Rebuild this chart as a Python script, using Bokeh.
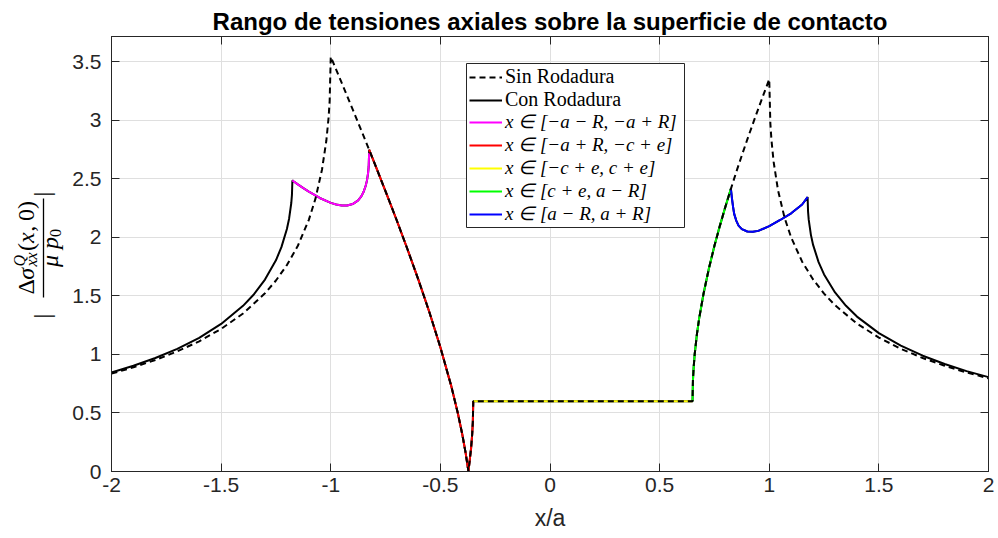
import math
from bokeh.plotting import figure
from bokeh.models import (Range1d, LinearAxis, Legend, LegendItem, BoxAnnotation,
                          FixedTicker, CustomJSTickFormatter)
from bokeh.layouts import row
from bokeh.embed import file_html
from bokeh.resources import INLINE
from bokeh.core.properties import value

# ---------------- data ----------------
x_ticks = [-2, -1.5, -1, -0.5, 0, 0.5, 1, 1.5, 2]
y_ticks = [0, 0.5, 1, 1.5, 2, 2.5, 3, 3.5]

# "Sin Rodadura" (dashed)
x_sin = [-2.0, -1.9, -1.8, -1.7, -1.6, -1.5, -1.4, -1.3, -1.25, -1.2, -1.15, -1.1, -1.07,
         -1.04, -1.02, -1.01, -1.005, -1.0, -0.95, -0.9, -0.85, -0.825, -0.8, -0.75, -0.7,
         -0.65, -0.6, -0.55, -0.5, -0.45, -0.42, -0.4, -0.385, -0.372, -0.36, -0.355, -0.352,
         -0.35, 0.65, 0.652, 0.655, 0.66, 0.67, 0.68, 0.7, 0.725, 0.75, 0.775, 0.8, 0.825,
         0.85, 0.875, 0.9, 0.925, 0.95, 0.975, 1.0, 1.005, 1.01, 1.02, 1.04, 1.07, 1.1, 1.15,
         1.2, 1.25, 1.3, 1.4, 1.5, 1.6, 1.7, 1.8, 1.9, 2.0]
y_sin = [0.836, 0.890, 0.952, 1.026, 1.112, 1.218, 1.349, 1.522, 1.631, 1.763, 1.928, 2.149, 2.328,
         2.577, 2.827, 3.020, 3.164, 3.542, 3.319, 3.093, 2.864, 2.748, 2.631, 2.393, 2.150,
         1.898, 1.636, 1.360, 1.061, 0.727, 0.495, 0.316, 0.161, 0.0, 0.198, 0.316, 0.421,
         0.600, 0.600, 0.779, 0.884, 1.002, 1.171, 1.303, 1.516, 1.736, 1.927, 2.100, 2.261, 2.414,
         2.560, 2.700, 2.836, 2.968, 3.098, 3.225, 3.350, 2.974, 2.832, 2.644, 2.402, 2.166, 1.998, 1.792,
         1.640, 1.519, 1.420, 1.263, 1.144, 1.048, 0.969, 0.903, 0.846, 0.796]

# "Con Rodadura" pieces
x_left = [-2.0, -1.9, -1.8, -1.7, -1.6, -1.5, -1.4, -1.35, -1.3, -1.25, -1.225, -1.2, -1.19,
          -1.18, -1.177, -1.175]
y_left = [0.846, 0.903, 0.969, 1.047, 1.141, 1.260, 1.415, 1.514, 1.639, 1.804, 1.916, 2.071, 2.159,
          2.293, 2.362, 2.486]

x_mag = [-1.175, -1.17, -1.15, -1.125, -1.1, -1.05, -1.0, -0.975, -0.95, -0.925, -0.9, -0.875,
         -0.86, -0.85, -0.84, -0.835, -0.83, -0.827, -0.825]
y_mag = [2.486, 2.479, 2.452, 2.420, 2.390, 2.336, 2.294, 2.280, 2.271, 2.271, 2.284, 2.316,
         2.352, 2.389, 2.444, 2.484, 2.544, 2.603, 2.720]

x_red = [-0.825, -0.8, -0.75, -0.7, -0.65, -0.6, -0.55, -0.5, -0.45, -0.42, -0.4, -0.385,
         -0.372, -0.36, -0.355, -0.352, -0.35]
y_red = [2.748, 2.631, 2.393, 2.150, 1.898, 1.636, 1.360, 1.061, 0.727, 0.495, 0.316, 0.161,
         0.0, 0.198, 0.316, 0.421, 0.600]

x_yel = [-0.35, 0.65]
y_yel = [0.600, 0.600]

x_grn = [0.65, 0.652, 0.655, 0.66, 0.67, 0.68, 0.7, 0.725, 0.75, 0.775, 0.8, 0.825]
y_grn = [0.600, 0.779, 0.884, 1.002, 1.171, 1.303, 1.516, 1.736, 1.927, 2.100, 2.261, 2.414]

x_blu = [0.825, 0.83, 0.835, 0.84, 0.85, 0.86, 0.875, 0.9, 0.925, 0.95, 1.0, 1.05, 1.1,
         1.15, 1.175]
y_blu = [2.414, 2.33, 2.26, 2.20, 2.14, 2.10, 2.07, 2.05, 2.048, 2.055, 2.095, 2.148, 2.205,
         2.28, 2.343]

x_right = [1.175, 1.177, 1.18, 1.19, 1.2, 1.225, 1.25, 1.3, 1.35, 1.4, 1.5, 1.6, 1.7, 1.8,
           1.9, 2.0]
y_right = [2.343, 2.220, 2.151, 2.021, 1.935, 1.788, 1.683, 1.529, 1.415, 1.323, 1.182, 1.075,
           0.989, 0.918, 0.857, 0.806]

legend_labels = ["Sin Rodadura", "Con Rodadura",
                 "x \u2208 [\u2212a \u2212 R, \u2212a + R]",
                 "x \u2208 [\u2212a + R, \u2212c + e]",
                 "x \u2208 [\u2212c + e, c + e]",
                 "x \u2208 [c + e, a \u2212 R]",
                 "x \u2208 [a \u2212 R, a + R]"]
seg_colors = ["#ff00ff", "#ff0000", "#ffff00", "#00ff00", "#0000ff"]

title_text = "Rango de tensiones axiales sobre la superficie de contacto"
xlabel_text = "x/a"

# ---------------- layout constants ----------------
W, H = 998, 538
LAB_W = 68                                   # side canvas holding the y label
FL, FR, FT, FB = 111, 988, 36, 471           # frame edges in page pixels
XMIN, XMAX, YMIN, YMAX = -2.0, 2.0, 0.0, 3.715
AX = "#262626"
GRID = "#dfdfdf"

def px2x(px):
    return XMIN + (px - FL) * (XMAX - XMIN) / (FR - FL)

def py2y(py):
    return YMIN + (FB - py) * (YMAX - YMIN) / (FB - FT)

x_con = x_left + x_mag[1:] + x_red + x_yel[1:] + x_grn[1:] + x_blu[1:] + x_right[1:]
y_con = y_left + y_mag[1:] + y_red + y_yel[1:] + y_grn[1:] + y_blu[1:] + y_right[1:]

p = figure(width=W - LAB_W, height=H, output_backend="svg", toolbar_location=None,
           x_range=Range1d(XMIN, XMAX), y_range=Range1d(YMIN, YMAX),
           min_border_left=FL - LAB_W, min_border_right=W - FR, min_border_top=FT,
           min_border_bottom=H - FB, background_fill_color="white", border_fill_color="white")
p.outline_line_color = AX
p.outline_line_width = 1

# title
p.title.text = title_text
p.title.align = "center"
p.title.text_font = "Liberation Sans"
p.title.text_font_size = "24px"
p.title.text_font_style = "bold"
p.title.text_color = "black"
p.title.standoff = 4

fmt = CustomJSTickFormatter(code="return tick.toString();")
blank = CustomJSTickFormatter(code="return '';")

for ax in (p.xaxis[0], p.yaxis[0]):
    ax.axis_line_color = AX
    ax.major_tick_line_color = AX
    ax.major_tick_in = 8
    ax.major_tick_out = 0
    ax.minor_tick_line_color = None
    ax.major_label_text_font = "Liberation Sans"
    ax.major_label_text_font_size = "21px"
    ax.major_label_text_color = AX
    ax.formatter = fmt
p.xaxis.ticker = FixedTicker(ticks=x_ticks)
p.yaxis.ticker = FixedTicker(ticks=y_ticks)
p.xaxis.major_label_standoff = 6
p.yaxis.major_label_standoff = 10
p.xaxis.axis_label = xlabel_text
p.xaxis.axis_label_text_font = "Liberation Sans"
p.xaxis.axis_label_text_font_size = "23px"
p.xaxis.axis_label_text_font_style = "normal"
p.xaxis.axis_label_text_color = AX
p.xaxis.axis_label_standoff = 10

# mirrored tick axes (top & right) as in a boxed MATLAB axes
for loc, tick in (("above", x_ticks), ("right", y_ticks)):
    a = LinearAxis(ticker=FixedTicker(ticks=tick), formatter=blank,
                   axis_line_color=AX, major_tick_line_color=AX,
                   major_tick_in=8, major_tick_out=0, minor_tick_line_color=None,
                   major_label_standoff=0, major_label_text_font_size="0px")
    p.add_layout(a, loc)

p.xgrid.ticker = FixedTicker(ticks=x_ticks)
p.ygrid.ticker = FixedTicker(ticks=y_ticks)
p.grid.grid_line_color = GRID
p.grid.grid_line_width = 1

# curves
r_con = p.line(x_con, y_con, line_color="black", line_width=2)
seg_r = []
for xs, ys, c in zip([x_mag, x_red, x_yel, x_grn, x_blu],
                     [y_mag, y_red, y_yel, y_grn, y_blu], seg_colors):
    seg_r.append(p.line(xs, ys, line_color=c, line_width=2))
r_sin = p.line(x_sin, y_sin, line_color="black", line_width=2, line_dash="6 4")

# legend box (white, framed) behind two legends
box = BoxAnnotation(left=px2x(466), right=px2x(684), top=py2y(63), bottom=py2y(227),
                    fill_color="white", fill_alpha=1.0, line_color=AX, line_width=1,
                    line_alpha=1.0)
p.add_layout(box)

common = dict(glyph_width=33, glyph_height=20, label_height=20, label_standoff=3,
              padding=0, margin=0, border_line_color=None, spacing=0,
              background_fill_alpha=0.0, label_text_font="Liberation Serif",
              label_text_color="black", label_text_baseline="middle")
legA = Legend(items=[LegendItem(label=legend_labels[0], renderers=[r_sin]),
                     LegendItem(label=legend_labels[1], renderers=[r_con])],
              location=(469 - FL, 360), label_text_font_style="normal",
              label_text_font_size="20px", **common)
legB = Legend(items=[LegendItem(label=lab, renderers=[r]) for lab, r in zip(legend_labels[2:], seg_r)],
              location=(469 - FL, 246), label_text_font_style="italic",
              label_text_font_size="19px", **common)
p.add_layout(legA, "center")
p.add_layout(legB, "center")

# ---------------- y-axis label: |Δσ^Q_xx(x,0) / μ p0| on a side canvas ----------------
# the side canvas uses page-pixel coordinates (frame aligned with the main frame)
lab = figure(width=LAB_W, height=H, output_backend="svg", toolbar_location=None,
             x_range=Range1d(0, LAB_W), y_range=Range1d(H - FB, H - FT),
             x_axis_location=None, y_axis_location=None,
             min_border_left=0, min_border_right=0, min_border_top=FT,
             min_border_bottom=H - FB)
lab.title.visible = False
lab.outline_line_color = None
lab.background_fill_color = "white"
lab.border_fill_color = "white"
lab.grid.grid_line_color = None

ang = math.pi / 2

def put(txt, px, py, size, style="normal", font="Liberation Serif"):
    lab.text(x=[px], y=[H - py], text=[txt], angle=ang, text_font=value(font),
             text_font_size=value(size), text_font_style=style,
             text_align="left", text_baseline="middle", text_color="black")

# numerator
put("\u0394", 25, 294, "24px")
put("\u03c3", 25, 279.3, "24px", "italic")
put("Q", 19, 266, "16px", "italic")
put("xx", 31, 266, "16px", "italic")
put("(", 25, 250.5, "24px")
put("x", 25, 242.5, "24px", "italic")
put(",\u20090)", 25, 231.3, "24px")
# fraction bar
lab.segment(x0=[43], y0=[H - 297], x1=[43], y1=[H - 198], line_color="black", line_width=1.3)
# denominator
put("\u03bc p", 49, 266.5, "24px", "italic")
put("0", 54.6, 236.5, "16px")
# absolute value bars
put("|", 41, 318, "24px")
put("|", 41, 196, "24px")

layout = row(lab, p)
open("out.html", "w").write(file_html(layout, INLINE))
